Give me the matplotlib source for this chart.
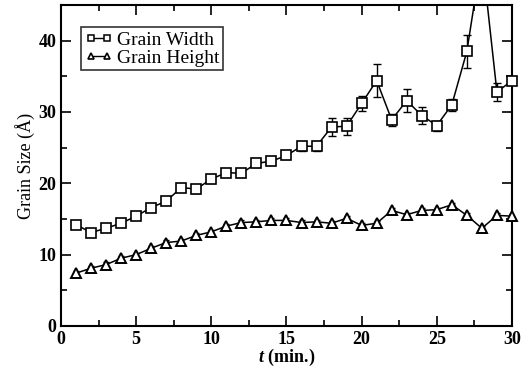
import matplotlib
matplotlib.use("Agg")
import matplotlib.pyplot as plt
from matplotlib.lines import Line2D
from matplotlib.ticker import MultipleLocator

plt.rcParams['font.family'] = ['Liberation Serif', 'DejaVu Serif']
plt.rcParams['mathtext.fontset'] = 'custom'
plt.rcParams['mathtext.it'] = 'Liberation Serif:italic:bold'
plt.rcParams['mathtext.rm'] = 'Liberation Serif:bold'

t = list(range(1, 31))

# Grain width (squares) with error bars
width = [14.2, 13.1, 13.7, 14.4, 15.4, 16.6, 17.5, 19.4, 19.2, 20.6,
         21.5, 21.4, 22.8, 23.1, 23.9, 25.2, 25.2, 27.9, 28.0, 31.2,
         34.4, 28.9, 31.6, 29.5, 28.1, 31.0, 38.5, 52.0, 32.8, 34.4]
width_err = [0.4, 0.4, 0.4, 0.4, 0.4, 0.4, 0.4, 0.4, 0.5, 0.5,
             0.5, 0.5, 0.5, 0.5, 0.5, 0.6, 0.6, 1.2, 1.2, 1.0,
             2.3, 0.8, 1.6, 1.2, 0.7, 0.8, 2.3, 2.5, 1.3, 0.6]

# Grain height (triangles)
height = [7.4, 8.1, 8.6, 9.5, 10.0, 10.9, 11.7, 11.9, 12.7, 13.2,
          14.0, 14.5, 14.6, 14.8, 14.8, 14.5, 14.6, 14.4, 15.1, 14.1,
          14.4, 16.2, 15.6, 16.2, 16.3, 17.0, 15.5, 13.7, 15.5, 15.4]
height_err = [0.3] * 30

ymax = 45

fig = plt.figure(figsize=(5.24, 3.70), dpi=100)
ax = fig.add_axes([0.1164, 0.119, 0.8606, 0.8675])

ax.errorbar(t, width, yerr=width_err, color='black', lw=1.1, fmt='-',
            capsize=3, elinewidth=1.0, capthick=1.0)
ax.errorbar(t, height, yerr=height_err, color='black', lw=1.1, fmt='-',
            capsize=2, elinewidth=1.0, capthick=1.0)

# markers drawn unclipped so the ones on the right edge show whole
wt = [ti for ti, v in zip(t, width) if v <= ymax]
wv = [v for v in width if v <= ymax]
ax.plot(wt, wv, 's', ms=6.5, mfc='white', mec='black', mew=1.2, clip_on=False, zorder=3)
ax.plot(t, height, '^', ms=7, mfc='white', mec='black', mew=1.4, clip_on=False, zorder=3)

ax.set_xlim(0, 30)
ax.set_ylim(0, ymax)
ax.xaxis.set_major_locator(MultipleLocator(5))
ax.xaxis.set_minor_locator(MultipleLocator(2.5))
ax.yaxis.set_major_locator(MultipleLocator(10))
ax.yaxis.set_minor_locator(MultipleLocator(5))
ax.tick_params(which='both', direction='in', top=True, right=True, width=1.2)
ax.tick_params(which='major', length=7, labelsize=13)
ax.tick_params(which='minor', length=4)
for lab in ax.get_xticklabels() + ax.get_yticklabels():
    lab.set_fontweight('bold')
for s in ax.spines.values():
    s.set_linewidth(1.5)

ax.set_xlabel(r'$t$ (min.)', fontsize=13, fontweight='bold', labelpad=-1)
ax.set_ylabel('Grain Size (Å)', fontsize=13, labelpad=2)

handles = [
    Line2D([], [], color='black', lw=1.0, marker='s', ms=4.5, mfc='white', mec='black', mew=1.1),
    Line2D([], [], color='black', lw=1.0, marker='^', ms=5, mfc='white', mec='black', mew=1.2),
]
leg = ax.legend(handles, ['Grain Width', 'Grain Height'], numpoints=2,
                loc='upper left', bbox_to_anchor=(0.044, 0.93), fontsize=14,
                frameon=True, fancybox=False, edgecolor='black',
                handlelength=1.45, handletextpad=0.2, borderpad=0.2,
                labelspacing=0.0, borderaxespad=0)
leg.get_frame().set_linewidth(1.2)

fig.savefig('out.png', dpi=100)
